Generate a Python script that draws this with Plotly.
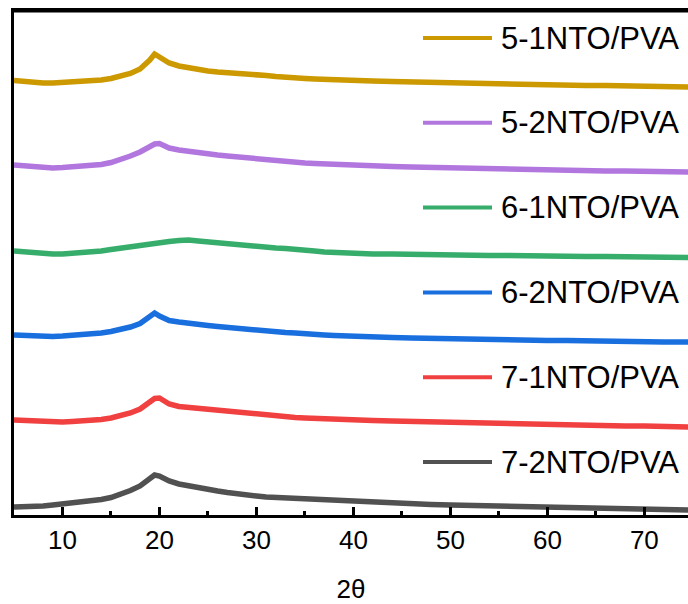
import plotly.graph_objects as go

# 2-theta grid (degrees)
two_theta = [5, 6, 7, 8, 9, 10, 11, 12, 13, 14, 15, 16, 17, 18, 18.5, 19, 19.5, 20, 20.5, 21,
             22, 23, 24, 25, 26, 27, 28, 29, 30, 31, 32, 33, 34, 35, 36, 37, 38, 39, 40,
             42, 44, 46, 48, 50, 52, 54, 56, 58, 60, 62, 64, 66, 68, 70, 72, 74, 75]

# stacked intensities (a.u., with vertical offsets)
s_5_1 = [434.5, 433.5, 432.5, 432, 432, 432.5, 433, 433.5, 434.5, 435, 436.5, 438.5, 441.5, 446, 450, 455, 461, 458, 454, 452,
         449, 447, 445, 444, 443, 442.5, 442, 441.5, 440.5, 439.5, 438.5, 437.5, 437, 436.5, 436, 435.5, 435, 435, 434.5,
         434, 433.5, 433, 432.5, 432, 431.5, 431.5, 431, 430.5, 430, 430, 429.5, 429.5, 429, 429, 428.5, 428, 428]
s_5_2 = [350, 349, 348, 347, 347, 347.5, 348, 348.5, 349.5, 350.5, 352.5, 355.5, 359, 363, 365.5, 368, 371, 371.5, 369, 367,
         365, 363.5, 362, 361, 360, 359, 358, 357.5, 356.5, 355.5, 354.5, 353.5, 352.5, 352, 351.5, 351, 350.5, 350, 349.5,
         349, 348.5, 348, 347.5, 347, 346.5, 346, 346, 345.5, 345, 345, 344.5, 344, 344, 343.5, 343.5, 343, 343]
s_6_1 = [264, 263, 262, 261.5, 261, 261, 261.5, 262, 263, 264, 265.5, 267, 268.5, 270, 271, 271.5, 272, 272.5, 273, 273.5,
         274.5, 275, 274, 273, 272, 271, 270, 269, 268, 267.5, 267, 266.5, 266, 265, 264, 263, 262.5, 262, 261.5,
         261, 261, 260.5, 260.5, 260, 260, 259.5, 259.5, 259, 259, 259, 258.5, 258.5, 258, 258, 258, 257.5, 257.5]
s_6_2 = [180, 179.5, 179, 178.5, 178.5, 179, 179.5, 180, 181, 182, 183.5, 185.5, 188, 191.5, 194.5, 198.5, 202, 199, 196, 194.5,
         193, 191.5, 190.5, 189.5, 188.5, 187.5, 186.5, 185.5, 184.5, 184, 183, 182.5, 182, 181, 180.5, 180, 179.5, 179, 178.5,
         178, 177.5, 177, 176.5, 176, 176, 175.5, 175, 175, 174.5, 174.5, 174, 174, 173.5, 173.5, 173, 173, 173]
s_7_1 = [95, 94.5, 94, 93.5, 93, 93, 93.5, 94, 94.5, 95.5, 97, 99, 102, 106, 109, 113, 116.5, 117, 114, 111,
         108.5, 107.5, 106.5, 105.5, 104.5, 103.5, 102.5, 101.5, 100.5, 99.5, 98.5, 98, 97.5, 97, 96.5, 96, 95.5, 95.5, 95,
         94.5, 94, 93.5, 93, 92.5, 92, 91.5, 91, 91, 90.5, 90, 90, 89.5, 89, 89, 88.5, 88, 88]
s_7_2 = [8, 8, 8.5, 9, 10, 11, 12, 13, 14, 15.5, 17.5, 20.5, 24.5, 29, 32.5, 36.5, 40, 39, 36, 34,
         31, 29, 27, 25.5, 24, 22.5, 21, 20, 19, 18, 17.5, 17, 16.5, 16, 15.5, 15, 14.5, 14, 13.5,
         12.5, 11.5, 11, 10.5, 10, 9.5, 9, 8.5, 8, 7.5, 7, 7, 6.5, 6, 6, 5.5, 5, 5]

names = ["5-1NTO/PVA", "5-2NTO/PVA", "6-1NTO/PVA", "6-2NTO/PVA", "7-1NTO/PVA", "7-2NTO/PVA"]
series = [s_5_1, s_5_2, s_6_1, s_6_2, s_7_1, s_7_2]
colors = ["#CC9900", "#B177DE", "#37AD6B", "#1A6FDF", "#F14040", "#515151"]

x_ticks = [10, 20, 30, 40, 50, 60, 70]
x_minor = [15, 25, 35, 45, 55, 65]

FONT = "Liberation Sans, Arial, sans-serif"

TOP = 11
H_PLOT = 515.0 - TOP
W_PLOT = 674.0

fig = go.Figure()
for name, ys, col in zip(names, series, colors):
    fig.add_trace(go.Scatter(x=two_theta, y=ys, mode="lines", name=name,
                             line=dict(color=col, width=5.5), showlegend=False))

# manual legend (paper coords)
for i, (name, col) in enumerate(zip(names, colors)):
    yc = 1 - (38 - TOP + i * 84.8) / H_PLOT
    fig.add_shape(type="line", xref="paper", yref="paper",
                  x0=(423 - 14) / W_PLOT, x1=(492 - 14) / W_PLOT, y0=yc, y1=yc,
                  line=dict(color=col, width=4))
    fig.add_annotation(xref="paper", yref="paper", x=(499 - 14) / W_PLOT, y=yc,
                       text=name, showarrow=False, xanchor="left", yanchor="middle",
                       font=dict(family=FONT, size=31, color="black"))

# top frame line
fig.add_shape(type="line", xref="paper", yref="paper", x0=0, x1=1, y0=1, y1=1,
              line=dict(color="black", width=3), layer="above")

fig.update_layout(
    width=688, height=604,
    margin=dict(l=14, r=0, t=TOP, b=89),
    paper_bgcolor="white", plot_bgcolor="white",
    font=dict(family=FONT, color="black"),
    xaxis=dict(range=[5, 74.5], tickvals=x_ticks, ticks="inside", ticklen=8, tickwidth=3,
               tickcolor="black", showline=True, linewidth=3, linecolor="black", mirror=True,
               showgrid=False, zeroline=False, tickfont=dict(size=26, family=FONT),
               minor=dict(tickvals=x_minor, ticks="inside", ticklen=4,
                          tickwidth=3, tickcolor="black"),
               title=dict(text="2θ", font=dict(size=26, family=FONT), standoff=26)),
    yaxis=dict(range=[0, H_PLOT], showticklabels=False, ticks="", showline=True, linewidth=3,
               linecolor="black", mirror=False, showgrid=False, zeroline=False),
)

css = "document.body.style.margin='0';document.body.style.padding='0';"
fig.write_html("out.html", config={"displayModeBar": False}, post_script=css)
